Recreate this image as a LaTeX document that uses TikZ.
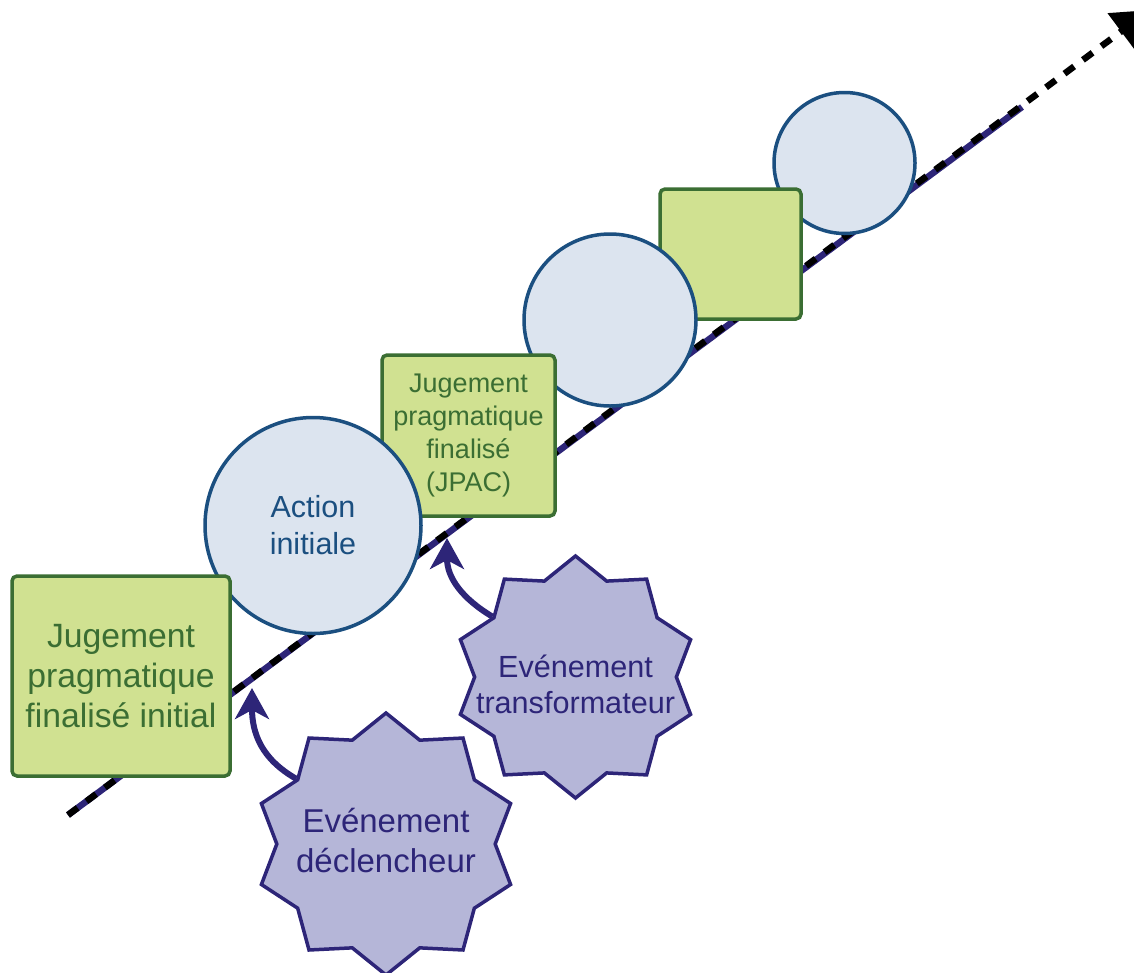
\documentclass[tikz,border=0pt]{standalone}
\usepackage{fontspec}
\setmainfont{Liberation Sans}
\usetikzlibrary{shapes.geometric, arrows.meta}
\definecolor{jpgreen}{HTML}{D0E191}
\definecolor{jpdark}{HTML}{3B6E33}
\definecolor{actfill}{HTML}{DCE4EF}
\definecolor{actdark}{HTML}{1B4F80}
\definecolor{evfill}{HTML}{B5B6D8}
\definecolor{evdark}{HTML}{2D2578}
\tikzstyle{jugement} = [rectangle, rounded corners=5pt, draw=jpdark, fill=jpgreen, line width=3.5pt, text=jpdark, align=center, inner sep=0pt]
\tikzstyle{action} = [circle, draw=actdark, fill=actfill, line width=3.5pt, text=actdark, align=center, inner sep=0pt]
\tikzstyle{evstar} = [star, star points=10, star point ratio=1.2, draw=evdark, fill=evfill, line width=3.5pt, inner sep=0pt]
\tikzstyle{evtext} = [text=evdark, align=center]
\tikzstyle{evarrow} = [evdark, line width=6pt, -{Stealth[length=31pt,width=34pt,inset=9pt]}]
\def\fs(#1,#2){\fontsize{#1}{#2}\selectfont}

\begin{document}
\begin{tikzpicture}[x=1pt,y=-1pt]
      \useasboundingbox (0,0) rectangle (1134,972);
      % time line
      \coordinate (lstart) at (68,815);
      \coordinate (lmid) at (1022,107);
      \coordinate (ltip) at (1150,10);
      \draw[evdark, line width=6.5pt] (lstart)--(lmid);
      \draw[black, line width=6.5pt, dash pattern=on 12pt off 11pt, -{Triangle[length=36pt,width=44pt]}] (lstart)--(ltip);
      % steps, from the top down
      \node (a3) at (844.5,163) [action, minimum size=141pt] {};
      \node (j3) at (730.5,254) [jugement, minimum width=141pt, minimum height=130pt] {};
      \node (a2) at (610,320) [action, minimum size=172pt] {};
      \node (j2) at (468.5,435.5) [jugement, minimum width=173pt, minimum height=161pt, font={\fs(27,33)}] {Jugement\\pragmatique\\finalisé\\(JPAC)};
      \node (a1) at (313,525.5) [action, minimum size=216pt, font={\fs(30.5,37)}] {Action\\initiale};
      \node (j1) at (121,676) [jugement, minimum width=218pt, minimum height=200pt, font={\fs(33.7,40)}] {Jugement\\pragmatique\\finalisé initial};
      % events
      \node (tra) at (575.5,677) [evstar, minimum size=242pt] {};
      \node (tratxt) at (575.5,684) [evtext, font={\fs(30.6,36)}] {Evénement\\transformateur};
      \node (dec) at (386,844) [evstar, minimum size=262pt] {};
      \node (dectxt) at (386,840) [evtext, font={\fs(33,40)}] {Evénement\\déclencheur};
      \coordinate (hit1) at (252,688);
      \coordinate (hit2) at (447,538);
      \draw[evarrow] (dec.144) .. controls +(-35,-20) and +(0,45) .. (hit1);
      \draw[evarrow] (tra.144) .. controls +(-30,-18) and +(0,40) .. (hit2);
\end{tikzpicture}
\end{document}
